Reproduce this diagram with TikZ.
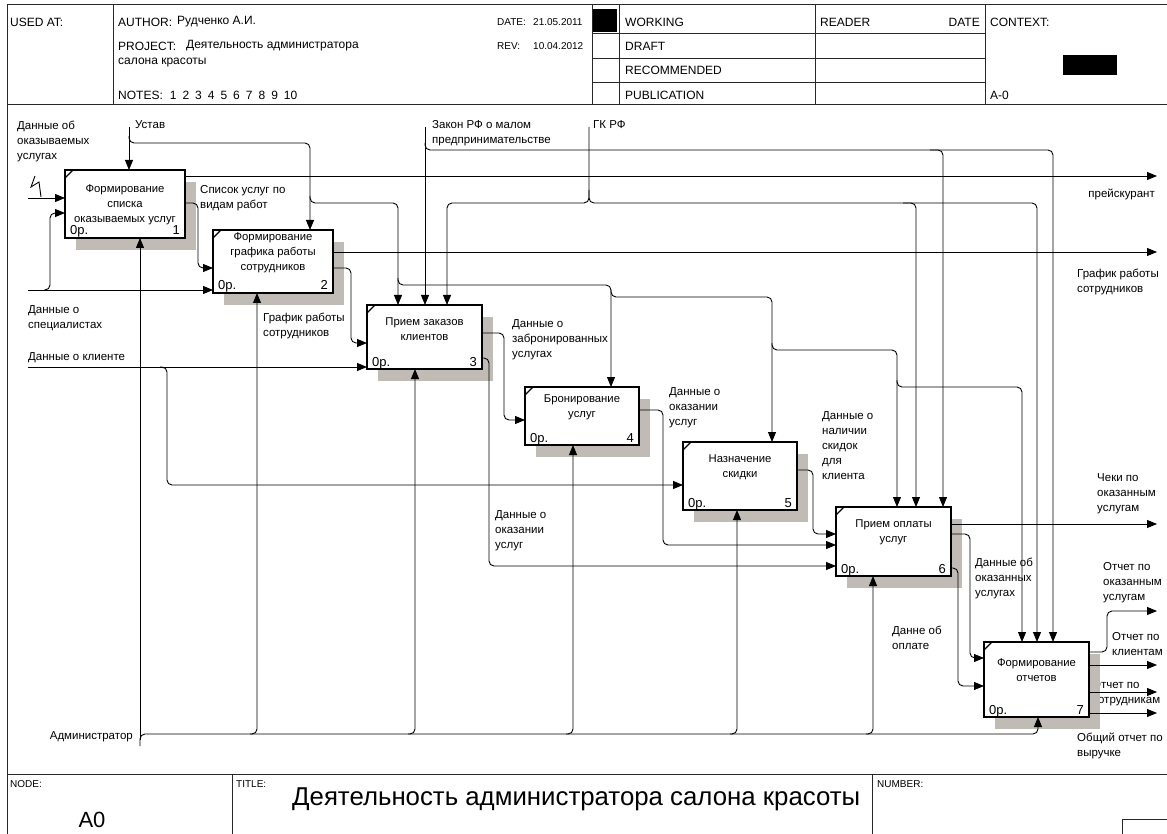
\documentclass[tikz,border=0pt]{standalone}
\usepackage{fontspec}
\setmainfont{Liberation Sans}
\usetikzlibrary{arrows.meta}
\definecolor{boxshade}{RGB}{192,188,181}
\definecolor{rule}{RGB}{40,40,40}

% IDEF0 activity box: shadow, frame, corner tick, caption, cost and number
% #1 name, #2 x1, #3 y1, #4 x2, #5 y2, #6 caption centre y, #7 caption, #8 number
\newcommand\FuncBox[8]{%
  \fill[boxshade] ({#2+11},{#3+12}) rectangle ({#4+11},{#5+12});
  \node[fbox,minimum width={(#4-#2)*1pt},minimum height={(#5-#3)*1pt},anchor=north west] (#1) at (#2,#3) {};
  \draw[line width=1.1pt] ([yshift=-8pt]#1.north west) -- ([xshift=8pt]#1.north west);
  \node[btext] (#1-t) at ({(#2+#4)/2},#6) {#7};
  \node[bnum,anchor=base west] (#1-c) at ({#2+5},{#5-3}) {0р.};
  \node[bnum,anchor=base east] (#1-n) at ({#4-5},{#5-3}) {#8};
}

\begin{document}
\begin{tikzpicture}[x=1pt,y=-1pt,
  frame/.style={line width=0.9pt,draw=rule},
  fbox/.style={draw,line width=2pt,fill=white,inner sep=0pt,outer sep=0pt},
  btext/.style={font=\fontsize{11.3}{15}\selectfont,align=center,inner sep=0pt},
  bnum/.style={font=\fontsize{13}{13}\selectfont,inner sep=0pt},
  lbl/.style={font=\fontsize{11.5}{15}\selectfont,align=left,inner sep=0pt,anchor=north west},
  hdr/.style={font=\fontsize{12}{14}\selectfont,inner sep=0pt,anchor=west},
  hdrdate/.style={font=\fontsize{10}{14}\selectfont,inner sep=0pt,anchor=west},
  small/.style={font=\fontsize{10}{10}\selectfont,inner sep=0pt,anchor=west},
  conn/.style={line width=0.9pt,rounded corners=5pt},
  arr/.style={conn,-{Triangle[length=10pt,width=8pt]}},
]
\useasboundingbox (0,0) rectangle (1167,834);
\fill[white] (0,0) rectangle (1167,834);

% ---------- header block ----------
\draw[frame] (7,4) -- (1167,4);
\draw[frame] (7,104) -- (1167,104);
\draw[frame] (7,4) -- (7,834);
\draw[frame] (113,4) -- (113,104);
\draw[frame] (592,4) -- (592,104);
\draw[frame] (619,4) -- (619,104);
\draw[frame] (815,4) -- (815,104);
\draw[frame] (985,4) -- (985,104);
\foreach \y in {33,58,82} \draw[frame] (592,\y) -- (985,\y);
\fill (593,9) rectangle (617,32);
\fill (1063,55) rectangle (1117,75);

\node[hdr] (usedat) at (10,22) {USED AT:};
\node[hdr] (author) at (118,22) {AUTHOR:};
\node[hdr] (authorv) at (177,22) {Рудченко А.И.};
\node[hdr] (project) at (118,46) {PROJECT:};
\node[hdr] (projectv) at (186,46) {Деятельность администратора};
\node[hdr] (project2) at (118,63) {салона красоты};
\node[hdr] (notes) at (118,95) {NOTES:\hskip7pt 1\hskip6pt 2\hskip6pt 3\hskip6pt 4\hskip6pt 5\hskip6pt 6\hskip6pt 7\hskip6pt 8\hskip6pt 9\hskip6pt 10};
\node[hdrdate] (date) at (497,22) {DATE:};
\node[hdrdate] (datev) at (533,22) {21.05.2011};
\node[hdrdate] (rev) at (497,46) {REV:};
\node[hdrdate] (revv) at (533,46) {10.04.2012};
\node[hdr] (working) at (625,22) {WORKING};
\node[hdr] (draft) at (625,46) {DRAFT};
\node[hdr] (recom) at (625,70) {RECOMMENDED};
\node[hdr] (publ) at (625,95) {PUBLICATION};
\node[hdr] (reader) at (820,22) {READER};
\node[hdr,anchor=east] (rdate) at (980,22) {DATE};
\node[hdr] (context) at (990,22) {CONTEXT:};
\node[hdr] (ctxnode) at (990,95) {A-0};

% ---------- footer block ----------
\draw[frame] (7,774) -- (1167,774);
\draw[frame] (232,774) -- (232,834);
\draw[frame] (872,774) -- (872,834);
\draw[frame] (1122,834) -- (1122,819) -- (1167,819);
\node[small] (nodelbl) at (10,784) {NODE:};
\node[font=\fontsize{22}{22}\selectfont,inner sep=0pt,anchor=base] (nodeval) at (92,827) {A0};
\node[small] (titlelbl) at (236,784) {TITLE:};
\node[font=\fontsize{25.8}{26}\selectfont,inner sep=0pt,anchor=base west] (title) at (292,805) {Деятельность администратора салона красоты};
\node[small] (numlbl) at (877,784) {NUMBER:};

% ---------- arrow labels ----------
\node[lbl] (t1) at (17,120.5) {Данные об\\оказываемых\\услугах};
\node[lbl] (t2) at (135,120.5) {Устав};
\node[lbl] (t3) at (200,185.5) {Список услуг по\\видам работ};
\node[lbl] (t4) at (432,120.5) {Закон РФ о малом\\предпринимательстве};
\node[lbl] (t5) at (593,120.5) {ГК РФ};
\node[lbl,anchor=north east] (t6) at (1155,188.5) {прейскурант};
\node[lbl] (t7) at (1077,268.5) {График работы\\сотрудников};
\node[lbl] (t8) at (28,305.5) {Данные о\\специалистах};
\node[lbl] (t9) at (263,312.5) {График работы\\сотрудников};
\node[lbl] (t10) at (28,352.5) {Данные о клиенте};
\node[lbl] (t11) at (512,319.5) {Данные о\\забронированных\\услугах};
\node[lbl] (t12) at (669,387.5) {Данные о\\оказании\\услуг};
\node[lbl] (t13) at (822,411.5) {Данные о\\наличии\\скидок\\для\\клиента};
\node[lbl] (t14) at (495,510.5) {Данные о\\оказании\\услуг};
\node[lbl] (t15) at (1097,473.5) {Чеки по\\оказанным\\услугам};
\node[lbl] (t16) at (975,557.5) {Данные об\\оказанных\\услугах};
\node[lbl] (t17) at (1103,562.5) {Отчет по\\оказанным\\услугам};
\node[lbl] (t18) at (892,625.5) {Данне об\\оплате};
\node[lbl] (t19) at (1112,632.5) {Отчет по\\клиентам};
\node[lbl] (t20) at (1092,680.5) {Отчет по\\сотрудникам};
\node[lbl] (t21) at (1077,732.5) {Общий отчет по\\выручке};
\node[lbl,anchor=east] (t22) at (133,737) {Администратор};

% ---------- activity boxes ----------
\FuncBox{b1}{65}{170}{185}{238}{204.5}{Формирование\\списка\\оказываемых услуг}{1}
\FuncBox{b2}{213}{230}{333}{293}{253}{Формирование\\графика работы\\сотрудников}{2}
\FuncBox{b3}{367}{305}{482}{369}{329.5}{Прием заказов\\клиентов}{3}
\FuncBox{b4}{525}{387}{639}{445}{407.5}{Бронирование\\услуг}{4}
\FuncBox{b5}{683}{442}{797}{510}{467}{Назначение\\скидки}{5}
\FuncBox{b6}{836}{507}{951}{576}{532}{Прием оплаты\\услуг}{6}
\FuncBox{b7}{984}{642}{1089}{717}{670.5}{Формирование\\отчетов}{7}

% ---------- free arrow ends ----------
\coordinate (srcServ) at (28,198);
\coordinate (srcSpec) at (28,290);
\coordinate (srcClient) at (28,367);
\coordinate (srcUstav) at (129,127);
\coordinate (srcLaw) at (425,127);
\coordinate (srcGK) at (589,127);
\coordinate (srcAdm) at (140,746);
\coordinate (outPrice) at (1157,176);
\coordinate (outSched) at (1157,252);
\coordinate (outCheck) at (1157,524);
\coordinate (outRepA) at (1157,611);
\coordinate (outRepB) at (1157,665);
\coordinate (outRepC) at (1157,692);
\coordinate (outRepD) at (1157,713);

% ---------- inputs ----------
\draw[line width=0.9pt] (35,176) -- (31,187) -- (39,182) -- (41,197);
\draw[arr] (srcServ) -- (b1.west |- srcServ);
\draw[arr] (srcSpec) -- (b2.west |- srcSpec);
\draw[arr] (44,290) -| (50,213) -- (b1.west |- 0,213);
\draw[arr] (srcClient) -- (b3.west |- srcClient);
\draw[arr] (160,367) -| (167,485) -- (b5.west |- 0,485);

% ---------- controls ----------
\draw[arr] (srcUstav) -- (b1.north -| srcUstav);
\draw[arr] (129,136) |- (310,143) -- (b2.north -| 310,0);
\draw[arr] (310,196) |- (398,203) -- (b3.north -| 398,0);
\draw[arr] (398,278) |- (611,285) -- (b4.north -| 611,0);
\draw[arr] (611,290) |- (772,297) -- (b5.north -| 772,0);
\draw[arr] (772,343) |- (897,350) -- (b6.north -| 897,0);
\draw[arr] (897,380) |- (1022,387) -- (b7.north -| 1022,0);

\draw[arr] (srcLaw) -- (b3.north -| srcLaw);
\draw[arr] (425,143) |- (1053,150) -- (b7.north -| 1053,0);
\draw[arr] (930,150) -| (b6.north -| 943,0);

\draw[arr] (srcGK) |- (447,203) -- (b3.north -| 447,0);
\draw[arr] (589,190) |- (1037,203) -- (b7.north -| 1037,0);
\draw[arr] (903,203) -| (b6.north -| 916,0);

% ---------- outputs ----------
\draw[arr] (b1.east |- outPrice) -- (outPrice);
\draw[arr] (b1.east |- 0,203) -| (198,268) -- (b2.west |- 0,268);
\draw[arr] (b2.east |- outSched) -- (outSched);
\draw[arr] (b2.east |- 0,268) -| (351,343) -- (b3.west |- 0,343);
\draw[arr] (b3.east |- 0,333) -| (504,420) -- (b4.west |- 0,420);
\draw[arr] (b3.east |- 0,358) -| (489,566) -- (b6.west |- 0,566);
\draw[arr] (b4.east |- 0,410) -| (663,545) -- (b6.west |- 0,545);
\draw[arr] (b5.east |- 0,470) -| (813,534) -- (b6.west |- 0,534);
\draw[arr] (b6.east |- outCheck) -- (outCheck);
\draw[arr] (b6.east |- 0,534) -| (970,658) -- (b7.west |- 0,658);
\draw[arr] (b6.east |- 0,568) -| (958,686) -- (b7.west |- 0,686);
\draw[arr] (b7.east |- 0,652) -| (1107,611) -- (outRepA);
\draw[arr] (b7.east |- outRepB) -- (outRepB);
\draw[arr] (b7.east |- outRepC) -- (outRepC);
\draw[arr] (b7.east |- outRepD) -- (outRepD);

% ---------- mechanism ----------
\draw[arr] (srcAdm) |- (1038,734) -- (b7.south -| 1038,0);
\draw[arr] (140,740) -- (b1.south -| 140,0);
\draw[arr] (250,734) -| (b2.south -| 257,0);
\draw[arr] (408,734) -| (b3.south -| 415,0);
\draw[arr] (566,734) -| (b4.south -| 573,0);
\draw[arr] (730,734) -| (b5.south -| 737,0);
\draw[arr] (866,734) -| (b6.south -| 873,0);
\end{tikzpicture}
\end{document}
